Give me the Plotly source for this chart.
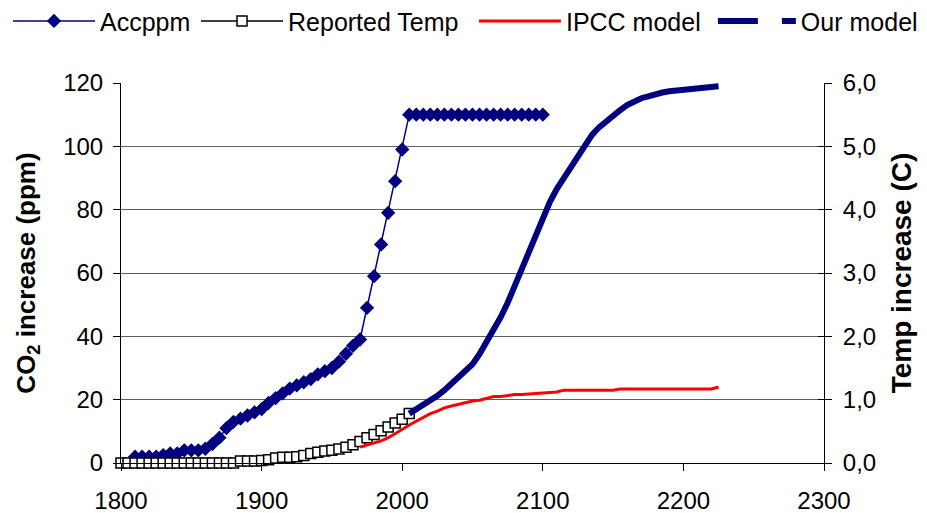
import plotly.graph_objects as go

# ---------------- data ----------------
acc_years = [1810, 1815, 1820, 1825, 1830, 1835, 1840, 1845, 1850, 1855,
             1860, 1865, 1870, 1875, 1880, 1885, 1890, 1895, 1900, 1905,
             1910, 1915, 1920, 1925, 1930, 1935, 1940, 1945, 1950, 1955,
             1960, 1965, 1970, 1975, 1980, 1985, 1990, 1995, 2000, 2005,
             2010, 2015, 2020, 2025, 2030, 2035, 2040, 2045, 2050, 2055,
             2060, 2065, 2070, 2075, 2080, 2085, 2090, 2095, 2100]
acc_ppm = [2, 2, 2, 2, 2.5, 3, 3, 4, 4, 4,
           4.5, 6, 8, 11, 13, 14, 15, 16, 17, 19,
           20.5, 22, 23.5, 24.5, 25.5, 26.5, 28, 29, 30, 32,
           34.5, 37, 39, 49, 59, 69, 79, 89, 99, 110,
           110, 110, 110, 110, 110, 110, 110, 110, 110, 110,
           110, 110, 110, 110, 110, 110, 110, 110, 110]

rep_years = [1800, 1805, 1810, 1815, 1820, 1825, 1830, 1835, 1840, 1845,
             1850, 1855, 1860, 1865, 1870, 1875, 1880, 1885, 1890, 1895,
             1900, 1905, 1910, 1915, 1920, 1925, 1930, 1935, 1940, 1945,
             1950, 1955, 1960, 1965, 1970, 1975, 1980, 1985, 1990, 1995,
             2000, 2005]
rep_temp = [0, 0, 0, 0, 0, 0, 0, 0, 0, 0,
            0, 0, 0, 0, 0, 0, 0, 0.03, 0.03, 0.03,
            0.04, 0.05, 0.08, 0.09, 0.09, 0.10, 0.12, 0.15, 0.17, 0.19,
            0.20, 0.22, 0.25, 0.29, 0.34, 0.40, 0.45, 0.51, 0.57, 0.63,
            0.69, 0.78]

ipcc_years = [1970, 1975, 1980, 1985, 1990, 1995, 2000, 2005, 2010, 2015,
              2020, 2025, 2030, 2035, 2040, 2045, 2050, 2055, 2060, 2065,
              2070, 2075, 2080, 2085, 2090, 2095, 2100, 2110, 2115, 2150,
              2155, 2220, 2225]
ipcc_temp = [0.25, 0.28, 0.31, 0.35, 0.40, 0.46, 0.53, 0.60, 0.66, 0.72,
             0.78, 0.82, 0.87, 0.90, 0.93, 0.96, 0.98, 0.99, 1.02, 1.05,
             1.05, 1.07, 1.08, 1.08, 1.09, 1.10, 1.10, 1.12, 1.15, 1.15,
             1.17, 1.17, 1.20]

our_years = [2005, 2010, 2015, 2020, 2025, 2030, 2035, 2040, 2045, 2050,
             2055, 2060, 2065, 2070, 2075, 2080, 2085, 2090, 2095, 2100,
             2105, 2110, 2115, 2120, 2125, 2130, 2135, 2140, 2145, 2150,
             2155, 2160, 2165, 2170, 2175, 2180, 2185, 2190, 2195, 2200,
             2205, 2210, 2215, 2220, 2225]
our_temp = [0.78, 0.85, 0.90, 0.97, 1.06, 1.15, 1.25, 1.33, 1.43, 1.56,
            1.72, 1.90, 2.10, 2.30, 2.53, 2.80, 3.06, 3.35, 3.60, 3.90,
            4.12, 4.33, 4.50, 4.70, 4.88, 5.05, 5.18, 5.30, 5.40, 5.50,
            5.57, 5.65, 5.71, 5.76, 5.79, 5.83, 5.85, 5.87, 5.88, 5.90,
            5.91, 5.92, 5.92, 5.93, 5.95]

x_ticks = [1800, 1900, 2000, 2100, 2200, 2300]
left_ticks = [0, 20, 40, 60, 80, 100, 120]
right_ticks = [0, 1, 2, 3, 4, 5, 6]
right_labels = ["0,0", "1,0", "2,0", "3,0", "4,0", "5,0", "6,0"]

NAVY = "#000080"
FONT = "Arial, Liberation Sans, sans-serif"

fig = go.Figure()

fig.add_trace(go.Scatter(
    x=acc_years, y=acc_ppm, name="Accppm", mode="lines+markers",
    line=dict(color=NAVY, width=1.5),
    marker=dict(symbol="diamond", size=11, color=NAVY),
    yaxis="y", cliponaxis=False, legend="legend"))

fig.add_trace(go.Scatter(
    x=rep_years, y=rep_temp, name="Reported Temp", mode="lines+markers",
    line=dict(color="black", width=1.5),
    marker=dict(symbol="square", size=10, color="white",
                line=dict(color="black", width=1.5)),
    yaxis="y2", cliponaxis=False, legend="legend2"))

fig.add_trace(go.Scatter(
    x=ipcc_years, y=ipcc_temp, name="IPCC model", mode="lines",
    line=dict(color="#FF0000", width=3),
    yaxis="y2", cliponaxis=False, legend="legend3"))

# legend sample for "Our model" (dashed thick line)
fig.add_trace(go.Scatter(
    x=[None], y=[None], name="Our model", mode="lines",
    line=dict(color=NAVY, width=6, dash="40px,24px"),
    yaxis="y2", showlegend=True, legend="legend4"))

fig.add_trace(go.Scatter(
    x=our_years, y=our_temp, name="Our model", mode="lines",
    line=dict(color=NAVY, width=6),
    yaxis="y2", showlegend=False, cliponaxis=False))

# inside tick marks on the right axis (ticks cross the axis line)
fig.add_trace(go.Scatter(x=[None], y=[None], yaxis="y3", showlegend=False))


def leg(xpos, iw=82):
    return dict(orientation="h", x=xpos, xref="container", xanchor="left",
                y=0.974, yref="container", yanchor="middle",
                font=dict(size=25, family=FONT), itemwidth=iw,
                bgcolor="rgba(0,0,0,0)")


# the page body adds an 8px offset, so the figure is 8px smaller
fig.update_layout(
    width=919, height=505,
    margin=dict(l=113, r=103, t=75, b=50, autoexpand=False),
    paper_bgcolor="white", plot_bgcolor="white",
    font=dict(family=FONT, size=24, color="black"),
    showlegend=True,
    legend=leg(0.0),
    legend2=leg(0.2046),
    legend3=leg(0.507),
    legend4=leg(0.767, 78),
    xaxis=dict(range=[1800, 2300], tickvals=x_ticks, showgrid=False,
               showline=True, linecolor="black", linewidth=1,
               ticks="outside", ticklen=7, tickcolor="black",
               tickfont=dict(size=24), zeroline=False,
               ticklabelstandoff=9),
    yaxis=dict(range=[0, 120], tickvals=left_ticks,
               showgrid=True, gridcolor="#606060", gridwidth=1,
               showline=True, linecolor="black", linewidth=1,
               ticks="outside", ticklen=7, tickcolor="black",
               tickfont=dict(size=24), zeroline=False,
               ticklabelstandoff=5,
               title=dict(text="<b>CO<sub>2</sub> increase (ppm)</b>",
                          font=dict(size=26), standoff=20)),
    yaxis2=dict(range=[0, 6], tickvals=right_ticks, ticktext=right_labels,
                overlaying="y", side="right", showgrid=False,
                showline=True, linecolor="black", linewidth=1,
                ticks="outside", ticklen=7, tickcolor="black",
                tickfont=dict(size=24), zeroline=False,
                ticklabelstandoff=6,
                title=dict(text="<b>Temp increase (C)</b>",
                           font=dict(size=28), standoff=16)),
    yaxis3=dict(range=[0, 6], tickvals=right_ticks, overlaying="y",
                side="right", showgrid=False, showline=False,
                ticks="inside", ticklen=6, tickcolor="black",
                showticklabels=False, zeroline=False),
)

fig.write_html("out.html")
